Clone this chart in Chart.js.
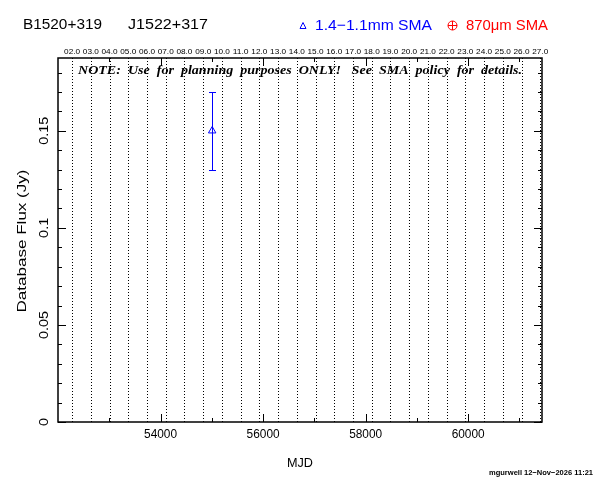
<!DOCTYPE html>
<html>
<head>
<meta charset="utf-8">
<script src="https://cdn.jsdelivr.net/npm/chart.js@4.4.1/dist/chart.umd.min.js"></script>
<style>
  html, body { margin: 0; padding: 0; background: #fff; }
  canvas { display: block; }
</style>
</head>
<body>
<canvas id="flux-chart" width="601" height="481"></canvas>
<script>
// source names shown in the title
const sourceNames = ['B1520+319', 'J1522+317'];

// 1.4-1.1mm SMA measurements (MJD, flux in Jy, 1-sigma error)
const mjd1mm = [55007];
const flux1mm = [0.150];
const err1mm = [0.020];

// 870um SMA measurements (none for this source)
const mjd870 = [];
const flux870 = [];
const err870 = [];

// top axis: start of each year, as MJD, and its label
const yearMjd = [52275, 52640, 53005, 53371, 53736, 54101, 54466, 54832, 55197, 55562,
  55927, 56293, 56658, 57023, 57388, 57754, 58119, 58484, 58849, 59215,
  59580, 59945, 60310, 60676, 61041, 61406];
const yearLabels = ['02.0', '03.0', '04.0', '05.0', '06.0', '07.0', '08.0', '09.0', '10.0', '11.0',
  '12.0', '13.0', '14.0', '15.0', '16.0', '17.0', '18.0', '19.0', '20.0', '21.0',
  '22.0', '23.0', '24.0', '25.0', '26.0', '27.0'];

// bottom axis ticks
const xMajorTicks = [54000, 56000, 58000, 60000];
const xMajorLabels = ['54000', '56000', '58000', '60000'];
const xMinorTicks = [53000, 55000, 57000, 59000, 61000];

// left axis ticks
const yMajorTicks = [0, 0.05, 0.1, 0.15];
const yMajorLabels = ['0', '0.05', '0.1', '0.15'];
const yMinorTicks = [0.01, 0.02, 0.03, 0.04, 0.06, 0.07, 0.08, 0.09,
  0.11, 0.12, 0.13, 0.14, 0.16, 0.17, 0.18];

const noteText = 'NOTE:  Use  for  planning  purposes  ONLY!   See  SMA  policy  for  details.';
const footerText = 'mgurwell 12\u2212Nov\u22122026 11:21';

const BLUE = '#0000ff';
const RED = '#ff0000';
const SANS = "'Liberation Sans', Arial, sans-serif";

// draws text squeezed/stretched to a given width
function fitText(ctx, str, x, y, font, width, align) {
    ctx.save();
    ctx.font = font;
    ctx.textBaseline = 'middle';
    ctx.textAlign = 'left';
    const w = ctx.measureText(str).width;
    const s = width / w;
    let left = x;
    if (align === 'center') left = x - width / 2;
    if (align === 'right') left = x - width;
    ctx.translate(left, y);
    ctx.scale(s, 1);
    ctx.fillText(str, 0, 0);
    ctx.restore();
}

const framePlugin = {
    id: 'frame',
    beforeDatasetsDraw(chart) {
        const ctx = chart.ctx;
        const xs = chart.scales.x;
        const area = chart.chartArea;
        // dotted year lines
        ctx.save();
        ctx.strokeStyle = '#000';
        ctx.lineWidth = 1;
        ctx.setLineDash([1, 2]);
        yearMjd.forEach(m => {
            const px = Math.round(xs.getPixelForValue(m)) + 0.5;
            if (px <= area.left + 1 || px >= area.right - 1) return;
            ctx.beginPath();
            ctx.moveTo(px, area.top);
            ctx.lineTo(px, area.bottom);
            ctx.stroke();
        });
        ctx.restore();

        // error bars
        ctx.save();
        ctx.lineWidth = 1;
        const ys = chart.scales.y;
        const drawErr = (mjds, fluxes, errs, color) => {
            ctx.strokeStyle = color;
            mjds.forEach((m, i) => {
                const px = Math.round(xs.getPixelForValue(m)) + 0.5;
                const top = Math.round(ys.getPixelForValue(fluxes[i] + errs[i])) + 0.5;
                const bot = Math.round(ys.getPixelForValue(fluxes[i] - errs[i])) + 0.5;
                ctx.beginPath();
                ctx.moveTo(px, top); ctx.lineTo(px, bot);
                ctx.moveTo(px - 3.5, top); ctx.lineTo(px + 3.5, top);
                ctx.moveTo(px - 3.5, bot); ctx.lineTo(px + 3.5, bot);
                ctx.stroke();
            });
        };
        drawErr(mjd1mm, flux1mm, err1mm, BLUE);
        drawErr(mjd870, flux870, err870, RED);
        ctx.restore();
    },
    afterDraw(chart) {
        const ctx = chart.ctx;
        const xs = chart.scales.x;
        const ys = chart.scales.y;
        const area = chart.chartArea;
        ctx.save();
        ctx.fillStyle = '#000';
        ctx.strokeStyle = '#000';

        // frame
        ctx.lineWidth = 1.5;
        ctx.strokeRect(area.left, area.top, area.right - area.left, area.bottom - area.top);

        // ticks
        ctx.lineWidth = 1;
        ctx.beginPath();
        const xTick = (m, len) => {
            const px = Math.round(xs.getPixelForValue(m)) + 0.5;
            ctx.moveTo(px, area.bottom); ctx.lineTo(px, area.bottom - len);
            ctx.moveTo(px, area.top); ctx.lineTo(px, area.top + len);
        };
        const yTick = (v, len) => {
            const py = Math.round(ys.getPixelForValue(v)) + 0.5;
            ctx.moveTo(area.left, py); ctx.lineTo(area.left + len, py);
            ctx.moveTo(area.right, py); ctx.lineTo(area.right - len, py);
        };
        xMajorTicks.forEach(m => xTick(m, 8));
        xMinorTicks.forEach(m => xTick(m, 4));
        yMajorTicks.forEach(v => yTick(v, 8));
        yMinorTicks.forEach(v => yTick(v, 4));
        ctx.stroke();

        // bottom tick labels
        xMajorTicks.forEach((m, i) => {
            fitText(ctx, xMajorLabels[i], xs.getPixelForValue(m), 435, '12px ' + SANS, 33, 'center');
        });

        // left tick labels (rotated)
        ctx.font = '12px ' + SANS;
        yMajorTicks.forEach((v, i) => {
            const py = ys.getPixelForValue(v);
            const w = ctx.measureText(yMajorLabels[i]).width * 1.2;
            ctx.save();
            ctx.translate(45, py);
            ctx.rotate(-Math.PI / 2);
            fitText(ctx, yMajorLabels[i], 0, 0, '12px ' + SANS, w, 'center');
            ctx.restore();
        });

        // top year labels
        yearMjd.forEach((m, i) => {
            fitText(ctx, yearLabels[i], xs.getPixelForValue(m), 52, '8px ' + SANS, 16, 'center');
        });

        // axis titles
        fitText(ctx, 'MJD', 300, 463, '13px ' + SANS, 26, 'center');
        ctx.save();
        ctx.translate(22, 241);
        ctx.rotate(-Math.PI / 2);
        fitText(ctx, 'Database Flux (Jy)', 0, 0, '13px ' + SANS, 143, 'center');
        ctx.restore();

        // title
        fitText(ctx, sourceNames[0], 23, 25, '15px ' + SANS, 79, 'left');
        fitText(ctx, sourceNames[1], 128, 25, '15px ' + SANS, 80, 'left');

        // legend
        ctx.strokeStyle = BLUE;
        ctx.lineWidth = 1;
        ctx.beginPath();
        ctx.moveTo(303, 22.5); ctx.lineTo(306, 28.5); ctx.lineTo(300, 28.5); ctx.closePath();
        ctx.stroke();
        ctx.fillStyle = BLUE;
        fitText(ctx, '1.4\u22121.1mm SMA', 315, 26, '15px ' + SANS, 117, 'left');
        ctx.strokeStyle = RED;
        ctx.beginPath();
        ctx.arc(452.5, 25.5, 4.5, 0, Math.PI * 2);
        ctx.moveTo(448, 25.5); ctx.lineTo(457, 25.5);
        ctx.moveTo(452.5, 21); ctx.lineTo(452.5, 30);
        ctx.stroke();
        ctx.fillStyle = RED;
        fitText(ctx, '870\u03bcm SMA', 466, 26, '15px ' + SANS, 82, 'left');

        // planning note
        ctx.fillStyle = '#000';
        fitText(ctx, noteText, 78, 71, "bold italic 13px 'Liberation Serif', serif", 444, 'left');

        // footer
        fitText(ctx, footerText, 593, 473, 'bold 8px ' + SANS, 104, 'right');
        ctx.restore();
    }
};

new Chart(document.getElementById('flux-chart').getContext('2d'), {
    type: 'scatter',
    data: {
        datasets: [{
            label: '1.4-1.1mm SMA',
            data: mjd1mm.map((m, i) => ({ x: m, y: flux1mm[i] })),
            pointStyle: 'triangle',
            radius: 4.3,
            borderColor: BLUE,
            backgroundColor: 'rgba(0,0,0,0)',
            borderWidth: 1
        }, {
            label: '870um SMA',
            data: mjd870.map((m, i) => ({ x: m, y: flux870[i] })),
            pointStyle: 'circle',
            radius: 4,
            borderColor: RED,
            backgroundColor: 'rgba(0,0,0,0)',
            borderWidth: 1
        }]
    },
    options: {
        responsive: false,
        animation: false,
        devicePixelRatio: 1,
        layout: { padding: { left: 58, top: 58, right: 59, bottom: 59 } },
        plugins: { legend: { display: false }, tooltip: { enabled: false } },
        scales: {
            x: { type: 'linear', min: 52000, max: 61440, display: false },
            y: { type: 'linear', min: 0, max: 0.1875, display: false }
        }
    },
    plugins: [framePlugin]
});
</script>
</body>
</html>
